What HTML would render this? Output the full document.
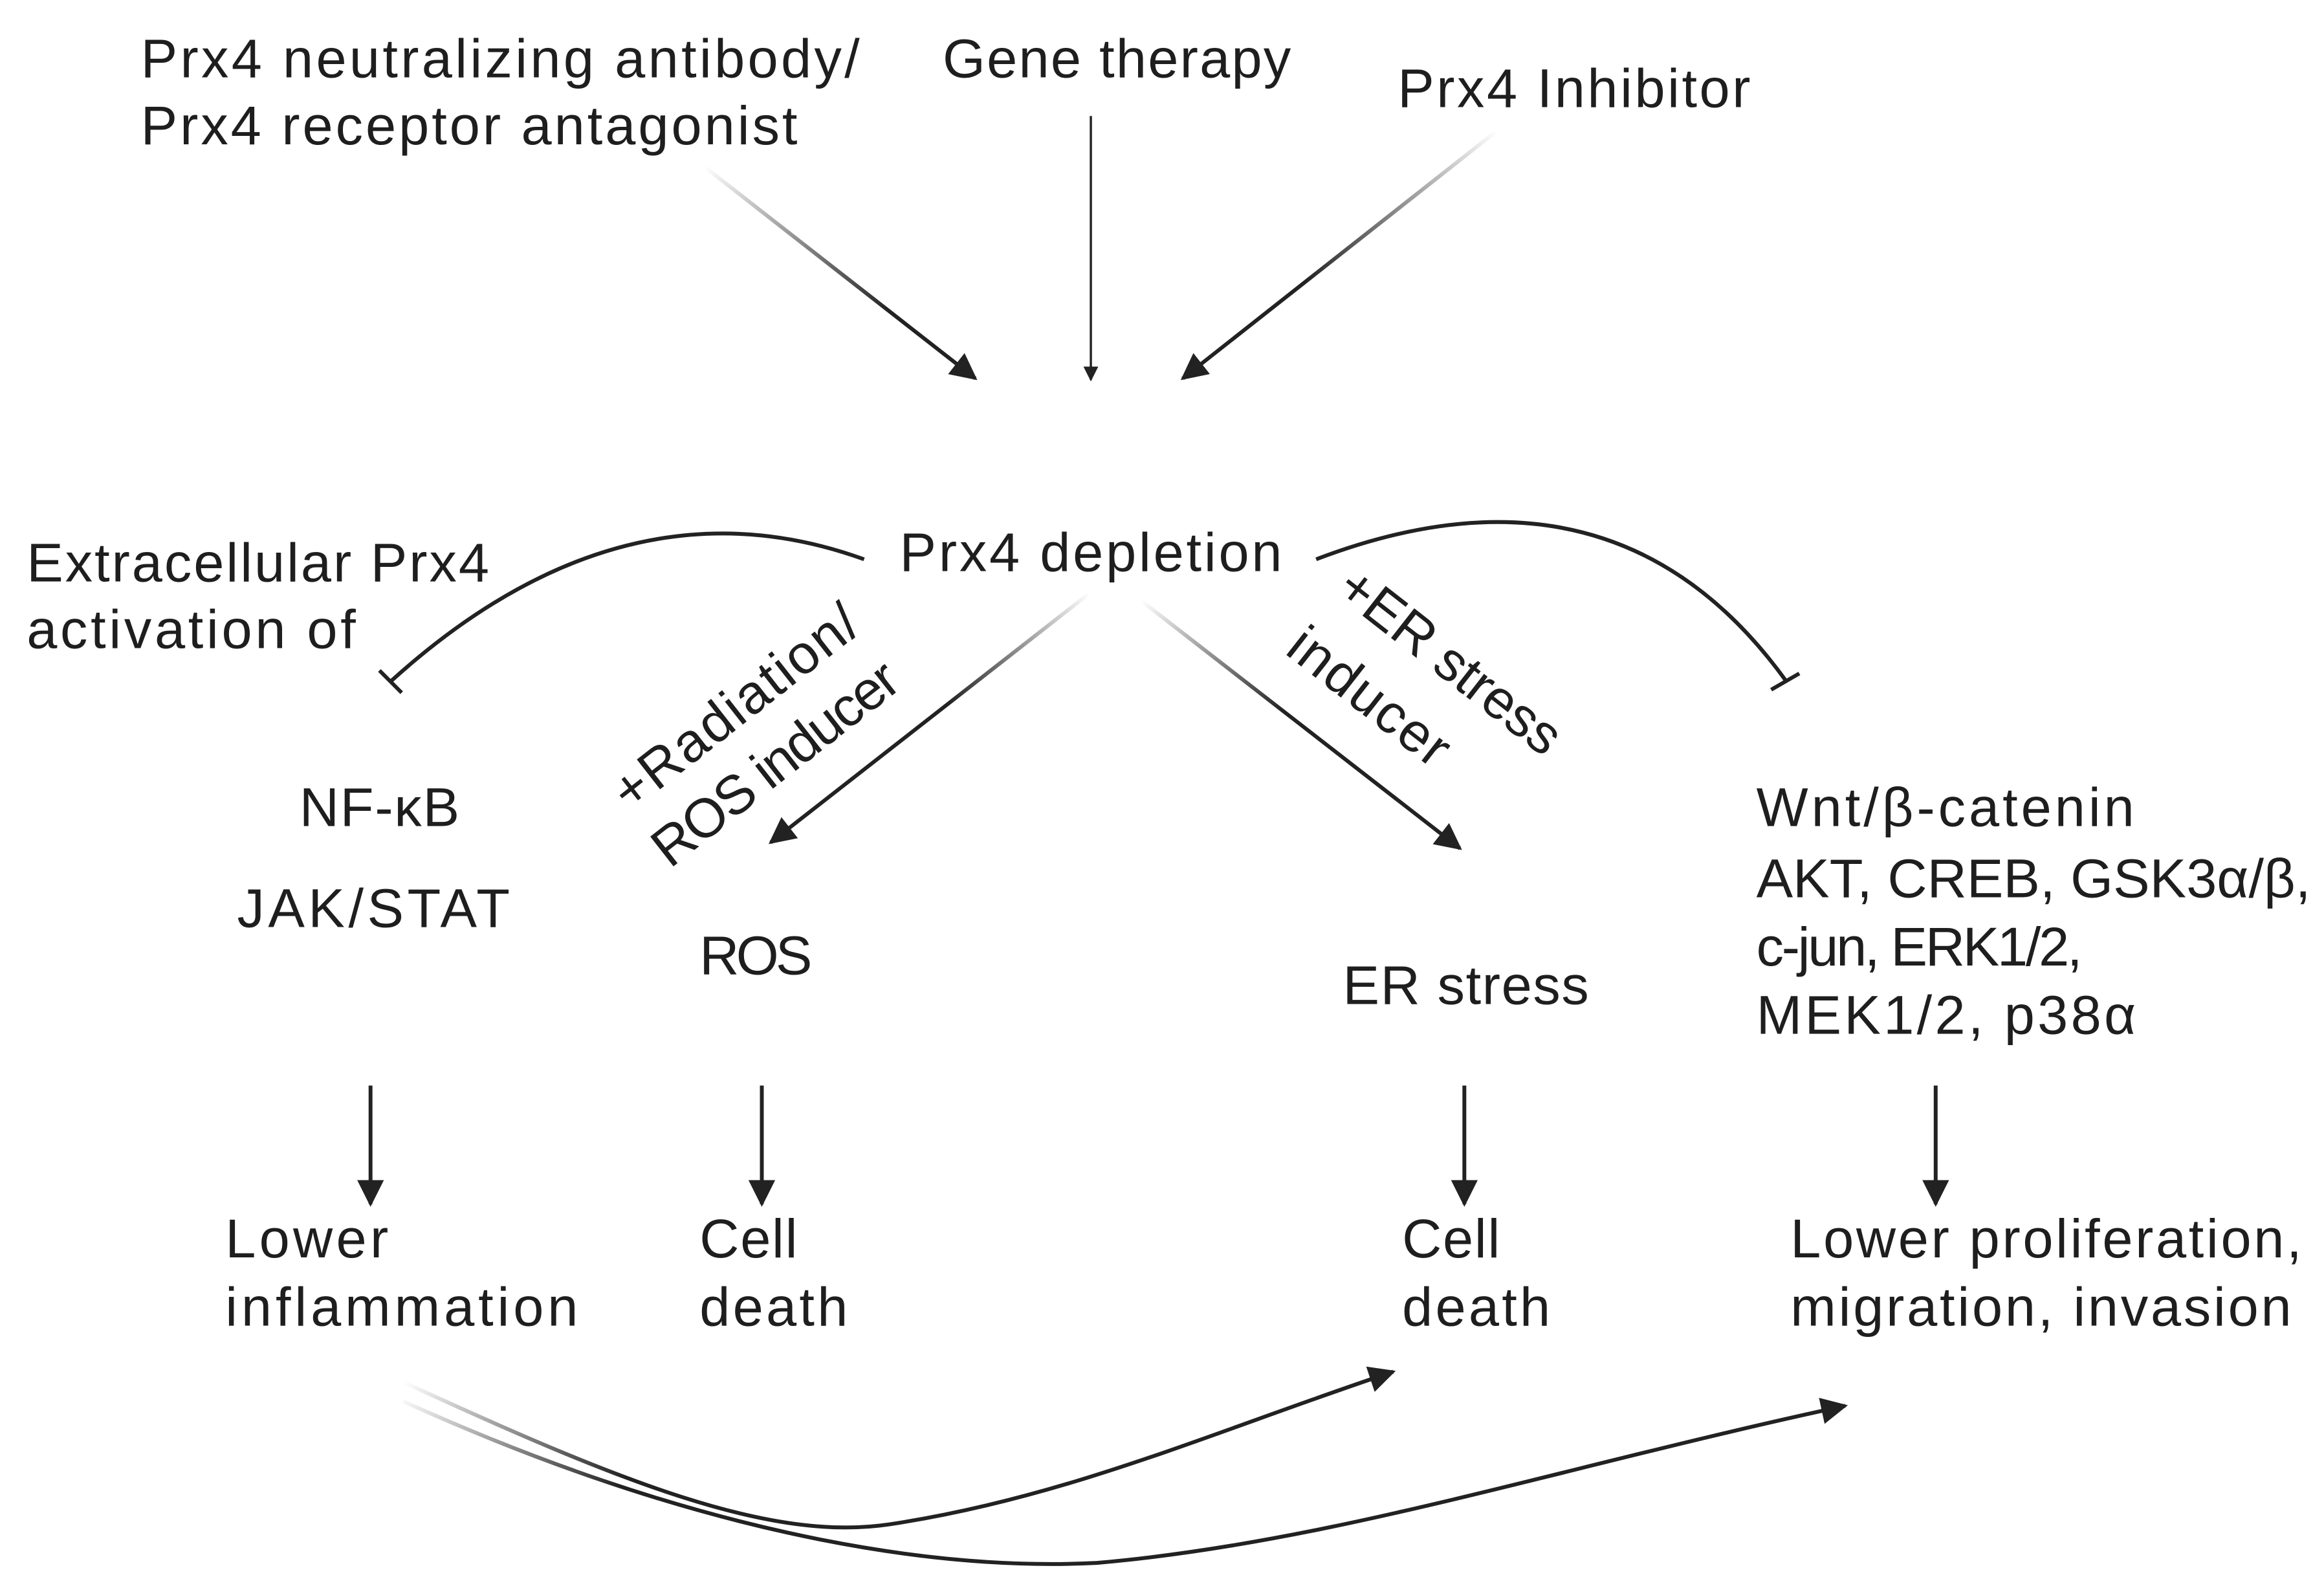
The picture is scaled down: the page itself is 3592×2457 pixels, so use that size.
<!DOCTYPE html>
<html><head><meta charset="utf-8"><style>
html,body{margin:0;padding:0;background:#fff;}
svg{display:block;}
text{font-family:"Liberation Sans",sans-serif;font-size:37px;fill:#1e1e1e;}
</style></head><body>
<svg width="3592" height="2457" viewBox="0 0 1568 1072" xmlns="http://www.w3.org/2000/svg">
<defs>
<marker id="ah" viewBox="0 0 10 10" refX="9" refY="5" markerWidth="20" markerHeight="18" markerUnits="userSpaceOnUse" orient="auto">
<path d="M0,0 L10,5 L0,10 z" fill="#222"/>
</marker>
<marker id="ahs" viewBox="0 0 10 10" refX="9" refY="5" markerWidth="12" markerHeight="10" markerUnits="userSpaceOnUse" orient="auto">
<path d="M0,0 L10,5 L0,10 z" fill="#222"/>
</marker>
<linearGradient id="g1" gradientUnits="userSpaceOnUse" x1="475" y1="112" x2="600" y2="210"><stop offset="0" stop-color="#fff"/><stop offset="1" stop-color="#222"/></linearGradient>
<linearGradient id="g2" gradientUnits="userSpaceOnUse" x1="1010" y1="88" x2="880" y2="190"><stop offset="0" stop-color="#fff"/><stop offset="1" stop-color="#222"/></linearGradient>
<linearGradient id="g3" gradientUnits="userSpaceOnUse" x1="735" y1="400" x2="640" y2="475"><stop offset="0" stop-color="#fff"/><stop offset="1" stop-color="#222"/></linearGradient>
<linearGradient id="g4" gradientUnits="userSpaceOnUse" x1="770" y1="405" x2="865" y2="480"><stop offset="0" stop-color="#fff"/><stop offset="1" stop-color="#222"/></linearGradient>
<linearGradient id="g5" gradientUnits="userSpaceOnUse" x1="272" y1="932" x2="420" y2="1000"><stop offset="0" stop-color="#fff"/><stop offset="1" stop-color="#222"/></linearGradient>
</defs>

<text x="95" y="52" textLength="485">Prx4 neutralizing antibody/</text>
<text x="95" y="97" textLength="443">Prx4 receptor antagonist</text>
<text x="636" y="52" textLength="235">Gene therapy</text>
<text x="943" y="72" textLength="238">Prx4 Inhibitor</text>

<line x1="475" y1="112" x2="658" y2="255" stroke="url(#g1)" stroke-width="2.6" marker-end="url(#ah)"/>
<line x1="736" y1="78" x2="736" y2="256" stroke="#222" stroke-width="1.5" marker-end="url(#ahs)"/>
<line x1="1010" y1="88" x2="798" y2="255" stroke="url(#g2)" stroke-width="2.6" marker-end="url(#ah)"/>

<text x="607" y="385" textLength="258">Prx4 depletion</text>
<text x="18" y="392" textLength="312">Extracellular Prx4</text>
<text x="18" y="437" textLength="222">activation of</text>

<path d="M583,377 Q420,318 264,459" fill="none" stroke="#222" stroke-width="2.6"/>
<line x1="256" y1="452" x2="271" y2="467" stroke="#222" stroke-width="2.6"/>
<path d="M888,377 Q1090,300 1205,459" fill="none" stroke="#222" stroke-width="2.6"/>
<line x1="1195" y1="465" x2="1214" y2="454" stroke="#222" stroke-width="2.6"/>

<line x1="735" y1="400" x2="520" y2="568" stroke="url(#g3)" stroke-width="2.6" marker-end="url(#ah)"/>
<line x1="770" y1="405" x2="985" y2="572" stroke="url(#g4)" stroke-width="2.6" marker-end="url(#ah)"/>

<g transform="translate(425,548) rotate(-38)"><text x="0" y="0" textLength="200">+Radiation/</text></g>
<g transform="translate(452,586) rotate(-38)"><text x="0" y="0" textLength="200">ROS inducer</text></g>
<g transform="translate(900,400) rotate(38)"><text x="0" y="0" textLength="180">+ER stress</text></g>
<g transform="translate(866,440) rotate(38)"><text x="0" y="0" textLength="128">inducer</text></g>

<text x="202" y="557" textLength="108">NF-κB</text>
<text x="160" y="625" textLength="184">JAK/STAT</text>
<text x="472" y="657" textLength="76">ROS</text>
<text x="906" y="677" textLength="166">ER stress</text>
<text x="1185" y="557" textLength="255">Wnt/β-catenin</text>
<text x="1185" y="605" textLength="374">AKT, CREB, GSK3α/β,</text>
<text x="1185" y="651" textLength="220">c-jun, ERK1/2,</text>
<text x="1185" y="697" textLength="256">MEK1/2, p38α</text>

<line x1="250" y1="732" x2="250" y2="812" stroke="#222" stroke-width="2.6" marker-end="url(#ah)"/>
<line x1="514" y1="732" x2="514" y2="812" stroke="#222" stroke-width="2.6" marker-end="url(#ah)"/>
<line x1="988" y1="732" x2="988" y2="812" stroke="#222" stroke-width="2.6" marker-end="url(#ah)"/>
<line x1="1306" y1="732" x2="1306" y2="812" stroke="#222" stroke-width="2.6" marker-end="url(#ah)"/>

<text x="152" y="848" textLength="110">Lower</text>
<text x="152" y="894" textLength="238">inflammation</text>
<text x="472" y="848" textLength="66">Cell</text>
<text x="472" y="894" textLength="100">death</text>
<text x="946" y="848" textLength="66">Cell</text>
<text x="946" y="894" textLength="100">death</text>
<text x="1208" y="848" textLength="345">Lower proliferation,</text>
<text x="1208" y="894" textLength="338">migration, invasion</text>

<path d="M272,932 C420,1000 520,1040 600,1028 C720,1010 820,965 940,925" fill="none" stroke="url(#g5)" stroke-width="2.6" marker-end="url(#ah)"/>
<path d="M272,945 C460,1030 620,1060 740,1054 C900,1040 1050,990 1245,948" fill="none" stroke="url(#g5)" stroke-width="2.6" marker-end="url(#ah)"/>
</svg>
</body></html>
